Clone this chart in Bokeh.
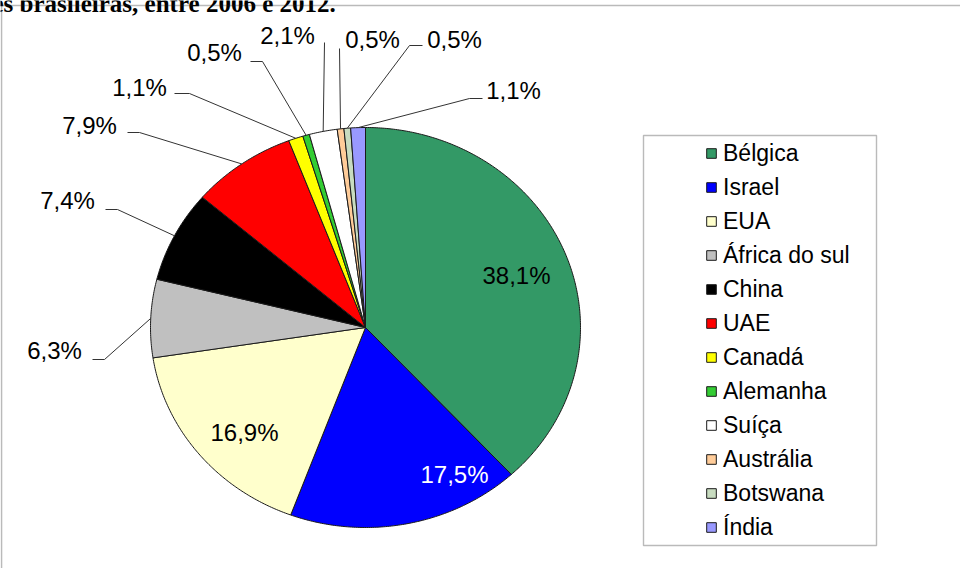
import numpy as np
from bokeh.plotting import figure
from bokeh.models import Range1d, Legend, LegendItem, BoxAnnotation, ColumnDataSource
from bokeh.core.properties import value
from bokeh.embed import file_html
from bokeh.resources import INLINE

# ---------------- data ----------------
countries = ["Bélgica", "Israel", "EUA", "África do sul", "China", "UAE",
             "Canadá", "Alemanha", "Suíça", "Austrália", "Botswana", "Índia"]
shares = [38.1, 17.5, 16.9, 6.3, 7.4, 7.9, 1.1, 0.5, 2.1, 0.5, 0.5, 1.1]
colors = ["#339966", "#0000FF", "#FFFFCC", "#C0C0C0", "#000000", "#FF0000",
          "#FFFF00", "#33CC33", "#FFFFFF", "#FFCC99", "#C8DCC0", "#9999FF"]
title_text = "es brasileiras, entre 2006 e 2012."

# ---------------- layout (screen-like coordinates) ----------------
W, H = 960, 568
OFF = 8
CX, CY, RX, RY = 373, 335, 215, 200

label_pos = [(524, 283), (462, 482), (252, 440), (62, 358), (75, 208), (97, 133),
             (147, 95), (222, 60), (295, 43), (380, 47), (462, 47), (521, 98)]
label_col = ["black", "white", "black", "black", "black", "black",
             "black", "black", "black", "black", "black", "black"]
leader_start = {
    3: [(100, 367), (112, 367)],
    4: [(113, 217), (125, 217)],
    5: [(135, 140), (147, 140)],
    6: [(182, 101), (197, 101)],
    7: [(258, 69), (270, 69)],
    8: [(332, 50)],
    9: [(347, 56)],
    10: [(430, 53), (417, 53)],
    11: [(490, 106), (477, 106)],
}

p = figure(width=W, height=H, output_backend="svg", toolbar_location=None,
           x_range=Range1d(OFF, OFF + W), y_range=Range1d(OFF + H, OFF),
           min_border=0)
p.axis.visible = False
p.grid.visible = False
p.outline_line_color = None
p.background_fill_color = "white"
p.border_fill_color = "white"

# chart frame
p.add_layout(BoxAnnotation(left=9, right=1100, top=13, bottom=800,
                           fill_alpha=0, line_color="#1a1a1a", line_width=1.6))

# title (cropped caption)
p.text(x=[0], y=[11], text=[title_text], text_font=value("Liberation Serif"),
       text_font_style="bold", text_font_size="25px", text_baseline="alphabetic",
       text_align="left", text_color="black")

# pie slices
total = sum(shares)
fr = np.cumsum([0] + shares) / total
xs, ys, mids = [], [], []
for i in range(len(shares)):
    a0, a1 = fr[i] * 2 * np.pi, fr[i + 1] * 2 * np.pi
    n = max(3, int(np.degrees(a1 - a0) * 2))
    t = np.linspace(a0, a1, n)
    xs.append(list(np.r_[CX, CX + RX * np.sin(t)]))
    ys.append(list(np.r_[CY, CY - RY * np.cos(t)]))
    am = 0.5 * (a0 + a1)
    mids.append((CX + RX * np.sin(am), CY - RY * np.cos(am)))

src = ColumnDataSource(dict(xs=xs, ys=ys, color=colors, name=countries))
r = p.patches("xs", "ys", source=src, fill_color="color", line_color="#1a1a1a",
              line_width=1)

# leader lines
lx, ly = [], []
for i, pts in leader_start.items():
    pts = pts + [mids[i]]
    lx.append([q[0] for q in pts])
    ly.append([q[1] for q in pts])
p.multi_line(lx, ly, line_color="#333333", line_width=1)

# percentage labels
lbl = [f"{v:.1f}".replace(".", ",") + "%" for v in shares]
p.text(x=[q[0] for q in label_pos], y=[q[1] for q in label_pos], text=lbl,
       text_color=label_col, text_font=value("Liberation Sans"),
       text_font_size="24px", text_align="center", text_baseline="middle")

# legend box
p.add_layout(BoxAnnotation(left=651, right=884, top=143, bottom=553,
                           fill_alpha=0, line_color="#1a1a1a", line_width=1.4))

items = [LegendItem(label=c, renderers=[r], index=i) for i, c in enumerate(countries)]
leg = Legend(items=items, location=(705, 26), orientation="vertical",
             glyph_width=12, glyph_height=12, label_standoff=6,
             label_height=30, spacing=4, padding=3, margin=0,
             label_text_font="Liberation Sans", label_text_font_size="23px",
             label_text_color="black", border_line_color=None,
             background_fill_alpha=0)
p.add_layout(leg)

open("out.html", "w").write(file_html(p, INLINE))
